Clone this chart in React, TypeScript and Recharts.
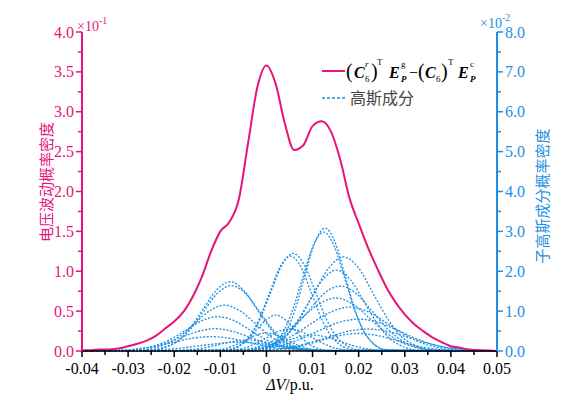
import { LineChart, Line, XAxis, YAxis, Legend } from 'recharts';

const PINK = '#E5157B';
const BLUE = '#1E8FE3';
const SERIF = '"Liberation Serif", "Times New Roman", serif';
const CJK = '"Noto Sans CJK SC", sans-serif';

const xDomain: [number, number] = [-0.04, 0.05];

// overall voltage-fluctuation density (left axis, ×10^-1)
const mainX = [
  -0.04, -0.038, -0.036, -0.034, -0.032, -0.03, -0.028, -0.026, -0.024, -0.022,
  -0.02, -0.018, -0.016, -0.014, -0.012, -0.01, -0.008, -0.006, -0.004, -0.002,
  0, 0.002, 0.004, 0.006, 0.008, 0.01, 0.012, 0.014, 0.016, 0.018,
  0.02, 0.022, 0.024, 0.026, 0.028, 0.03, 0.032, 0.034, 0.036, 0.038,
  0.04, 0.042, 0.044, 0.046, 0.048, 0.05,
];
const mainY = [
  0.01, 0.01, 0.02, 0.02, 0.03, 0.06, 0.09, 0.13, 0.19, 0.28,
  0.37, 0.49, 0.68, 0.93, 1.25, 1.5, 1.62, 1.9, 2.6, 3.3,
  3.58, 3.35, 2.85, 2.52, 2.58, 2.82, 2.88, 2.75, 2.4, 1.92,
  1.6, 1.3, 1.04, 0.8, 0.61, 0.46, 0.34, 0.25, 0.17, 0.11,
  0.06, 0.04, 0.02, 0.01, 0.005, 0,
];

// sub-Gaussian components (right axis, ×10^-2), [ΔV, density] pairs
const gaussComponents: [number, number][][] = [
  [[-0.0253, 0.02], [-0.0195, 0.23], [-0.0166, 0.57], [-0.0137, 1.06], [-0.0108, 1.53], [-0.0079, 1.74], [-0.005, 1.53], [-0.0021, 1.06], [0.0008, 0.57], [0.0037, 0.23], [0.0095, 0.02]],
  [[-0.0256, 0.02], [-0.0196, 0.22], [-0.0166, 0.53], [-0.0136, 1.0], [-0.0106, 1.45], [-0.0076, 1.64], [-0.0046, 1.45], [-0.0016, 1.0], [0.0014, 0.53], [0.0044, 0.22], [0.0104, 0.02]],
  [[-0.0285, 0.01], [-0.022, 0.16], [-0.0188, 0.37], [-0.0155, 0.7], [-0.0123, 1.01], [-0.009, 1.15], [-0.0058, 1.01], [-0.0025, 0.7], [0.0008, 0.37], [0.004, 0.16], [0.0105, 0.01]],
  [[-0.0315, 0.01], [-0.0245, 0.12], [-0.021, 0.28], [-0.0175, 0.52], [-0.014, 0.76], [-0.0105, 0.86], [-0.007, 0.76], [-0.0035, 0.52], [0, 0.28], [0.0035, 0.12], [0.0105, 0.01]],
  [[-0.0335, 0.01], [-0.026, 0.08], [-0.0223, 0.18], [-0.0185, 0.34], [-0.0148, 0.49], [-0.011, 0.56], [-0.0073, 0.49], [-0.0035, 0.34], [0.0003, 0.18], [0.004, 0.08], [0.0115, 0.01]],
  [[-0.036, 0], [-0.028, 0.05], [-0.024, 0.12], [-0.02, 0.22], [-0.016, 0.32], [-0.012, 0.36], [-0.008, 0.32], [-0.004, 0.22], [0, 0.12], [0.004, 0.05], [0.012, 0]],
  [[-0.0315, 0], [-0.023, 0.03], [-0.0188, 0.07], [-0.0145, 0.13], [-0.0103, 0.19], [-0.006, 0.22], [-0.0018, 0.19], [0.0025, 0.13], [0.0068, 0.07], [0.011, 0.03], [0.0195, 0]],
  [[-0.0086, 0.03], [-0.0038, 0.33], [-0.0014, 0.8], [0.001, 1.49], [0.0034, 2.16], [0.0058, 2.45], [0.0082, 2.16], [0.0106, 1.49], [0.013, 0.8], [0.0154, 0.33], [0.0202, 0.03]],
  [[-0.0086, 0.03], [-0.004, 0.32], [-0.0017, 0.77], [0.0006, 1.44], [0.0029, 2.1], [0.0052, 2.38], [0.0075, 2.1], [0.0098, 1.44], [0.0121, 0.77], [0.0144, 0.32], [0.019, 0.03]],
  [[-0.0005, 0.03], [0.0039, 0.42], [0.0061, 1.0], [0.0083, 1.87], [0.0105, 2.72], [0.0127, 3.08], [0.0149, 2.72], [0.0171, 1.87], [0.0193, 1.0], [0.0215, 0.42], [0.0259, 0.03]],
  [[-0.0014, 0.03], [0.0032, 0.4], [0.0055, 0.97], [0.0078, 1.81], [0.0101, 2.63], [0.0124, 2.98], [0.0147, 2.63], [0.017, 1.81], [0.0193, 0.97], [0.0216, 0.4], [0.0262, 0.03]],
  [[-0.0028, 0.03], [0.0037, 0.32], [0.007, 0.77], [0.0102, 1.43], [0.0135, 2.08], [0.0167, 2.36], [0.02, 2.08], [0.0232, 1.43], [0.0265, 0.77], [0.0297, 0.32], [0.0362, 0.03]],
  [[-0.0028, 0.02], [0.0032, 0.27], [0.0062, 0.66], [0.0092, 1.23], [0.0122, 1.79], [0.0152, 2.03], [0.0182, 1.79], [0.0212, 1.23], [0.0242, 0.66], [0.0272, 0.27], [0.0332, 0.02]],
  [[-0.005, 0.02], [0.002, 0.22], [0.0055, 0.53], [0.009, 0.99], [0.0125, 1.44], [0.016, 1.63], [0.0195, 1.44], [0.023, 0.99], [0.0265, 0.53], [0.03, 0.22], [0.037, 0.02]],
  [[-0.0075, 0.01], [0, 0.18], [0.0038, 0.43], [0.0075, 0.81], [0.0113, 1.17], [0.015, 1.33], [0.0188, 1.17], [0.0225, 0.81], [0.0263, 0.43], [0.03, 0.18], [0.0375, 0.01]],
  [[-0.0075, 0.01], [0.001, 0.15], [0.0053, 0.36], [0.0095, 0.67], [0.0138, 0.97], [0.018, 1.1], [0.0223, 0.97], [0.0265, 0.67], [0.0308, 0.36], [0.035, 0.15], [0.0435, 0.01]],
  [[-0.007, 0.01], [0.002, 0.11], [0.0065, 0.26], [0.011, 0.49], [0.0155, 0.71], [0.02, 0.8], [0.0245, 0.71], [0.029, 0.49], [0.0335, 0.26], [0.038, 0.11], [0.047, 0.01]],
  [[-0.005, 0.01], [0.004, 0.07], [0.0085, 0.18], [0.013, 0.33], [0.0175, 0.49], [0.022, 0.55], [0.0265, 0.49], [0.031, 0.33], [0.0355, 0.18], [0.04, 0.07], [0.049, 0.01]],
  [[-0.01, 0.01], [-0.006, 0.12], [-0.004, 0.29], [-0.002, 0.55], [0, 0.79], [0.002, 0.9], [0.004, 0.79], [0.006, 0.55], [0.008, 0.29], [0.01, 0.12], [0.014, 0.01]],
  [[-0.01, 0.01], [-0.005, 0.07], [-0.0025, 0.18], [0, 0.33], [0.0025, 0.49], [0.005, 0.55], [0.0075, 0.49], [0.01, 0.33], [0.0125, 0.18], [0.015, 0.07], [0.02, 0.01]],
  [[-0.0135, 0], [-0.009, 0.06], [-0.0068, 0.15], [-0.0045, 0.27], [-0.0023, 0.4], [0, 0.45], [0.0023, 0.4], [0.0045, 0.27], [0.0068, 0.15], [0.009, 0.06], [0.0135, 0]],
  [[-0.008, 0], [-0.002, 0.05], [0.001, 0.13], [0.004, 0.24], [0.007, 0.35], [0.01, 0.4], [0.013, 0.35], [0.016, 0.24], [0.019, 0.13], [0.022, 0.05], [0.028, 0]],
  [[-0.022, 0], [-0.016, 0.04], [-0.013, 0.09], [-0.01, 0.17], [-0.007, 0.24], [-0.004, 0.28], [-0.001, 0.24], [0.002, 0.17], [0.005, 0.09], [0.008, 0.04], [0.014, 0]],
  [[-0.004, 0], [0.004, 0.06], [0.008, 0.14], [0.012, 0.27], [0.016, 0.39], [0.02, 0.44], [0.024, 0.39], [0.028, 0.27], [0.032, 0.14], [0.036, 0.06], [0.044, 0]],
];

const xTicks = [
  -0.04, -0.035, -0.03, -0.025, -0.02, -0.015, -0.01, -0.005, 0, 0.005,
  0.01, 0.015, 0.02, 0.025, 0.03, 0.035, 0.04, 0.045, 0.05,
];
const leftTicks = [0, 0.25, 0.5, 0.75, 1, 1.25, 1.5, 1.75, 2, 2.25, 2.5, 2.75, 3, 3.25, 3.5, 3.75, 4];
const rightTicks = [0, 0.5, 1, 1.5, 2, 2.5, 3, 3.5, 4, 4.5, 5, 5.5, 6, 6.5, 7, 7.5, 8];

const mainData = mainX.map((x, i) => ({ x, y: mainY[i] }));
const componentData = gaussComponents.map((pts) => [
  { x: xDomain[0], y: 0 },
  ...pts.map(([x, y]) => ({ x, y })),
  { x: xDomain[1], y: 0 },
]);

const isStep = (v: number, step: number) => Math.abs(v / step - Math.round(v / step)) < 1e-6;

function LeftTick({ x, y, payload }: any) {
  const v = payload.value as number;
  const major = isStep(v, 0.5);
  return (
    <g>
      <line x1={x - (major ? 6 : 4)} x2={x} y1={y} y2={y} stroke={PINK} strokeWidth={1.5} />
      {major && (
        <text x={x - 8} y={y} textAnchor="end" dominantBaseline="central" fill={PINK} fontSize={16} fontFamily={SERIF}>
          {v.toFixed(1)}
        </text>
      )}
    </g>
  );
}

function RightTick({ x, y, payload }: any) {
  const v = payload.value as number;
  const major = isStep(v, 1);
  return (
    <g>
      <line x1={x} x2={x + (major ? 6 : 4)} y1={y} y2={y} stroke={BLUE} strokeWidth={1.5} />
      {major && (
        <text x={x + 8} y={y} textAnchor="start" dominantBaseline="central" fill={BLUE} fontSize={16} fontFamily={SERIF}>
          {v.toFixed(1)}
        </text>
      )}
    </g>
  );
}

function BottomTick({ x, y, payload }: any) {
  const v = payload.value as number;
  const major = isStep(v, 0.01);
  return (
    <g>
      <line x1={x} x2={x} y1={y} y2={y + (major ? 6 : 4)} stroke="#000" strokeWidth={1.5} />
      {major && (
        <text x={x} y={y + 23} textAnchor="middle" fill="#000" fontSize={16} fontFamily={SERIF}>
          {v === 0 ? '0' : v.toFixed(2)}
        </text>
      )}
    </g>
  );
}

// top frame: inward ticks only
function TopTick({ x, y }: any) {
  return <line x1={x} x2={x} y1={y} y2={y + 5} stroke="#000" strokeWidth={1.5} />;
}

function LeftTitle() {
  return (
    <g>
      <text x={45} y={182} transform="rotate(-90 45 182)" textAnchor="middle" dominantBaseline="central" fill={PINK} fontSize={15} fontFamily={CJK}>
        电压波动概率密度
      </text>
      <text x={77} y={31} fill={PINK} fontSize={14} fontFamily={SERIF}>
        ×10<tspan dy={-7} fontSize={10}>-1</tspan>
      </text>
    </g>
  );
}

function RightTitle() {
  return (
    <g>
      <text x={541} y={196} transform="rotate(-90 541 196)" textAnchor="middle" dominantBaseline="central" fill={BLUE} fontSize={15} fontFamily={CJK}>
        子高斯成分概率密度
      </text>
      <text x={480} y={28} fill={BLUE} fontSize={14} fontFamily={SERIF}>
        ×10<tspan dy={-7} fontSize={10}>-2</tspan>
      </text>
    </g>
  );
}

function BottomTitle() {
  return (
    <text x={290} y={390} textAnchor="middle" fill="#000" fontSize={16} fontFamily={SERIF}>
      <tspan fontStyle="italic">ΔV</tspan>/p.u.
    </text>
  );
}

function LegendBox() {
  const bi = { fontWeight: 700, fontStyle: 'italic' as const, fontSize: 16 };
  return (
    <svg width={180} height={60} style={{ display: 'block' }}>
      <line x1={4} x2={27} y1={16} y2={16} stroke={PINK} strokeWidth={2} />
      <g fontFamily={SERIF} fill="#000">
        <text x={28} y={23} fontSize={20}>(</text>
        <text x={36} y={23} {...bi}>C</text>
        <text x={47} y={12} fontSize={9} fontStyle="italic">r</text>
        <text x={47} y={27} fontSize={9}>6</text>
        <text x={53} y={23} fontSize={20}>)</text>
        <text x={59} y={10} fontSize={9}>T</text>
        <text x={71} y={23} {...bi}>E</text>
        <text x={83} y={12} fontSize={9}>g</text>
        <text x={83} y={27} fontSize={9} fontWeight={700} fontStyle="italic">P</text>
        <text x={91} y={23} fontSize={16}>−</text>
        <text x={100} y={23} fontSize={20}>(</text>
        <text x={107} y={23} {...bi}>C</text>
        <text x={118} y={27} fontSize={9}>6</text>
        <text x={123} y={23} fontSize={20}>)</text>
        <text x={130} y={10} fontSize={9}>T</text>
        <text x={140} y={23} {...bi}>E</text>
        <text x={152} y={12} fontSize={9}>c</text>
        <text x={152} y={27} fontSize={9} fontWeight={700} fontStyle="italic">P</text>
      </g>
      <line x1={4} x2={27} y1={43} y2={43} stroke={BLUE} strokeWidth={1.5} strokeDasharray="3 2" />
      <text x={32} y={49} fontSize={16} fontFamily={CJK} fill="#444">高斯成分</text>
    </svg>
  );
}

export default function App() {
  return (
    <div style={{ position: 'absolute', left: 0, top: 0, width: 577, height: 410, background: '#fff' }}>
      <LineChart width={577} height={410} margin={{ top: 32, right: 40, bottom: 29, left: 42 }}>
        <XAxis
          xAxisId="bottom"
          dataKey="x"
          type="number"
          domain={xDomain}
          ticks={xTicks}
          interval={0}
          allowDataOverflow
          height={30}
          tickSize={0}
          tickMargin={0}
          tickLine={false}
          tick={<BottomTick />}
          axisLine={{ stroke: '#000', strokeWidth: 1.5 }}
          label={<BottomTitle />}
        />
        <XAxis
          xAxisId="top"
          orientation="top"
          dataKey="x"
          type="number"
          domain={xDomain}
          ticks={xTicks}
          interval={0}
          height={0}
          mirror
          tickSize={0}
          tickMargin={0}
          tickLine={false}
          tick={<TopTick />}
          axisLine={{ stroke: '#000', strokeWidth: 1.5 }}
        />
        <YAxis
          yAxisId="left"
          type="number"
          domain={[0, 4]}
          ticks={leftTicks}
          interval={0}
          width={40}
          tickSize={0}
          tickMargin={0}
          tickLine={false}
          tick={<LeftTick />}
          axisLine={{ stroke: PINK, strokeWidth: 2 }}
          label={<LeftTitle />}
        />
        <YAxis
          yAxisId="right"
          orientation="right"
          type="number"
          domain={[0, 8]}
          ticks={rightTicks}
          interval={0}
          width={40}
          tickSize={0}
          tickMargin={0}
          tickLine={false}
          tick={<RightTick />}
          axisLine={{ stroke: BLUE, strokeWidth: 2 }}
          label={<RightTitle />}
        />
        <Legend
          layout="vertical"
          align="center"
          verticalAlign="middle"
          content={() => <LegendBox />}
          wrapperStyle={{ left: 318, top: 55, width: 180, height: 60 }}
        />
        {componentData.map((d, i) => (
          <Line
            key={i}
            data={d}
            xAxisId="bottom"
            yAxisId="right"
            dataKey="y"
            type="monotone"
            stroke={BLUE}
            strokeWidth={1.3}
            strokeDasharray="2 1.6"
            dot={false}
            isAnimationActive={false}
          />
        ))}
        <Line
          data={mainData}
          xAxisId="bottom"
          yAxisId="left"
          dataKey="y"
          type="monotone"
          stroke={PINK}
          strokeWidth={2}
          dot={false}
          isAnimationActive={false}
        />
      </LineChart>
    </div>
  );
}
